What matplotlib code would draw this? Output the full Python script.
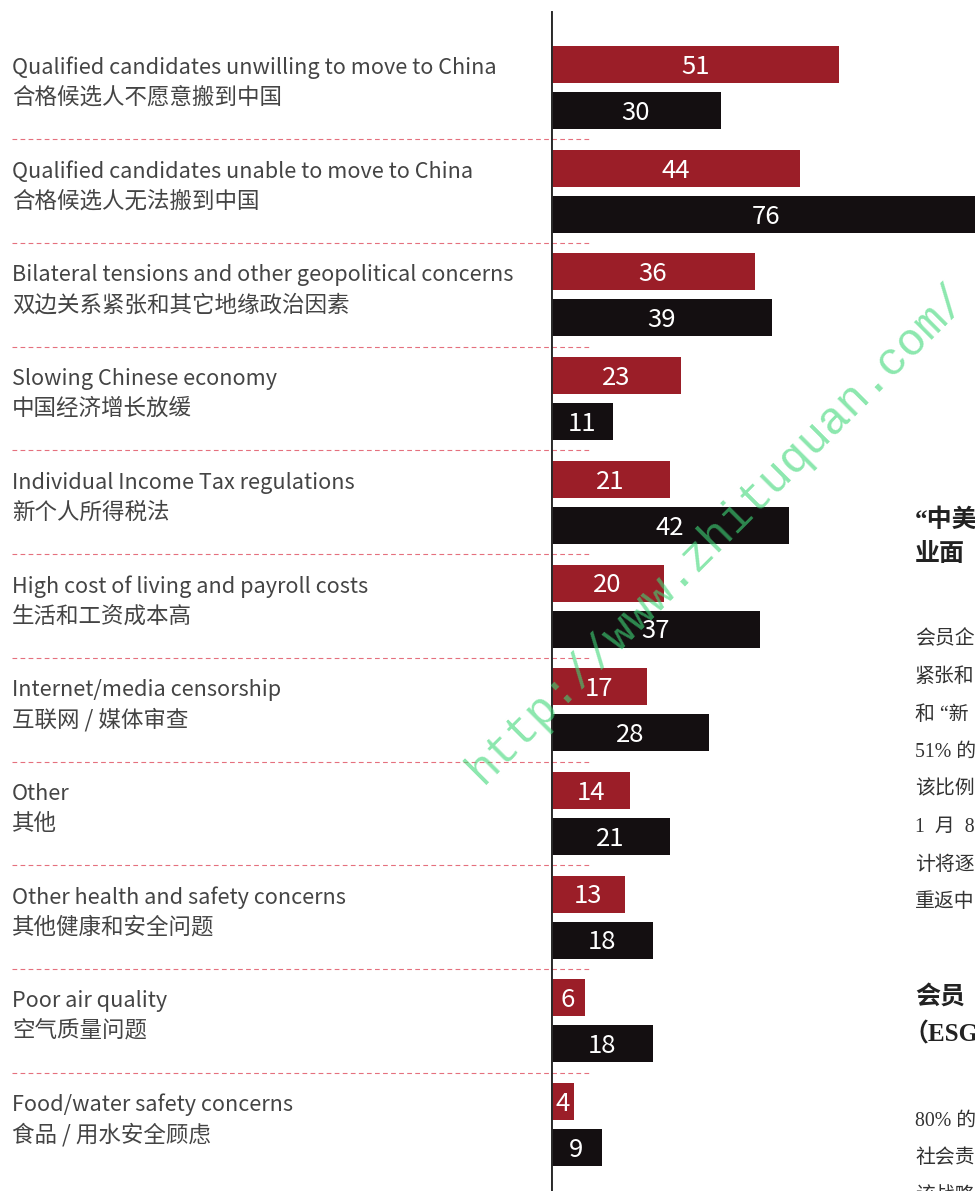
import matplotlib
matplotlib.use("Agg")
import matplotlib.pyplot as plt
import matplotlib.transforms as mtransforms
import numpy as np

plt.rcParams['font.family'] = ['Noto Sans CJK SC', 'DejaVu Sans']
plt.rcParams['lines.scale_dashes'] = False

# ---------------- data ----------------
labels_en = [
    "Qualified candidates unwilling to move to China",
    "Qualified candidates unable to move to China",
    "Bilateral tensions and other geopolitical concerns",
    "Slowing Chinese economy",
    "Individual Income Tax regulations",
    "High cost of living and payroll costs",
    "Internet/media censorship",
    "Other",
    "Other health and safety concerns",
    "Poor air quality",
    "Food/water safety concerns",
]
labels_zh = [
    "合格候选人不愿意搬到中国",
    "合格候选人无法搬到中国",
    "双边关系紧张和其它地缘政治因素",
    "中国经济增长放缓",
    "新个人所得税法",
    "生活和工资成本高",
    "互联网 / 媒体审查",
    "其他",
    "其他健康和安全问题",
    "空气质量问题",
    "食品 / 用水安全顾虑",
]
series_red = [51, 44, 36, 23, 21, 20, 17, 14, 13, 6, 4]
series_black = [30, 76, 39, 11, 42, 37, 28, 21, 18, 18, 9]

# article text at the right edge, cut by the page border as in the reference
side_heading1 = ["“中美", "业面"]
side_body1 = ["会员企", "紧张和", "和 “新", "51% 的", "该比例",
              "1  月  8", "计将逐", "重返中"]
side_heading2 = ["会员", "（ESG"]
side_body2 = ["80% 的", "社会责", "该战略"]
watermark = "http://www.zhituquan.com/"

# ---------------- styling ----------------
W, H = 975, 1191
RED = "#9B1E28"
BLACK = "#140F11"
DASH = "#E5707E"
px_per_unit = 5.655
group_px = 103.7
first_center_px = 87.5

fig = plt.figure(figsize=(W / 100, H / 100), dpi=100)
fig.patch.set_facecolor("white")

ax_left = 551
ax_right = 1000
ax = fig.add_axes([ax_left / W, 0, (ax_right - ax_left) / W, 1])
ax.patch.set_visible(False)
ax.set_xlim(0, (ax_right - ax_left) / px_per_unit)
top = -first_center_px / group_px
bottom = (H - first_center_px) / group_px
ax.set_ylim(bottom, top)
for s in ax.spines.values():
    s.set_visible(False)
ax.set_xticks([])
ax.set_yticks([])

n = len(series_red)
pos = np.arange(n)
off = 23 / group_px
bh = 37 / group_px

ax.barh(pos - off, series_red, height=bh, color=RED, zorder=2)
ax.barh(pos + off, series_black, height=bh, color=BLACK, zorder=2)

digit_off = 9.3 / group_px
for i in range(n):
    ax.text(series_red[i] / 2, pos[i] - off + digit_off, str(series_red[i]),
            color="white", fontsize=18.5, ha="center", va="baseline", zorder=4)
    ax.text(series_black[i] / 2, pos[i] + off + digit_off, str(series_black[i]),
            color="white", fontsize=18.5, ha="center", va="baseline", zorder=4)

# axis line
ax.axvline(0, ymin=0, ymax=1 - 12 / H, color="#2a2a2a", lw=2.1, zorder=5)

# category labels & separators (x in figure coords, y in data)
blend = mtransforms.blended_transform_factory(fig.transFigure, ax.transData)
for i in range(n):
    ax.text(12 / W, pos[i] - 13.5 / group_px, labels_en[i], transform=blend,
            fontsize=15.6, fontweight="light", color="#444444",
            ha="left", va="baseline", clip_on=False)
    ax.text(12 / W, pos[i] + 10 / group_px, labels_zh[i], transform=blend,
            fontsize=16.2, fontweight="light", color="#444444",
            ha="left", va="center", clip_on=False)

ax.hlines(pos[:-1] + 0.5, 12 / W, 590 / W, transform=blend, colors=DASH,
          linewidth=0.8, linestyles=(0, (3.4, 2.4)), clip_on=False, zorder=1)

# right-hand article text (cut by the page edge)
side_family = ['Liberation Serif', 'Noto Sans CJK SC']


def ftxt(x, y, s, **kw):
    fig.text(x / W, 1 - y / H, s, ha="left", va="center",
             family=side_family, **kw)


for k, s in enumerate(side_heading1):
    ftxt(915, 520 + 35 * k, s, fontsize=18, fontweight="bold", color="#222222")
for k, s in enumerate(side_body1):
    ftxt(915, 640 + 37.5 * k, s, fontsize=14.3, color="#333333")
for k, s in enumerate(side_heading2):
    x0 = 903 if s.startswith("（") else 915
    ftxt(x0, 997 + 37 * k, s, fontsize=18, fontweight="bold", color="#222222")
for k, s in enumerate(side_body2):
    ftxt(915, 1121 + 37.5 * k, s, fontsize=14.3, color="#333333")

# watermark
fig.text(717 / W, 1 - 533 / H, watermark, rotation=45, rotation_mode="anchor",
         family="Liberation Mono", fontsize=33, color="#3FD878", alpha=0.6,
         ha="center", va="center", zorder=10)

fig.savefig("out.png", dpi=100)
